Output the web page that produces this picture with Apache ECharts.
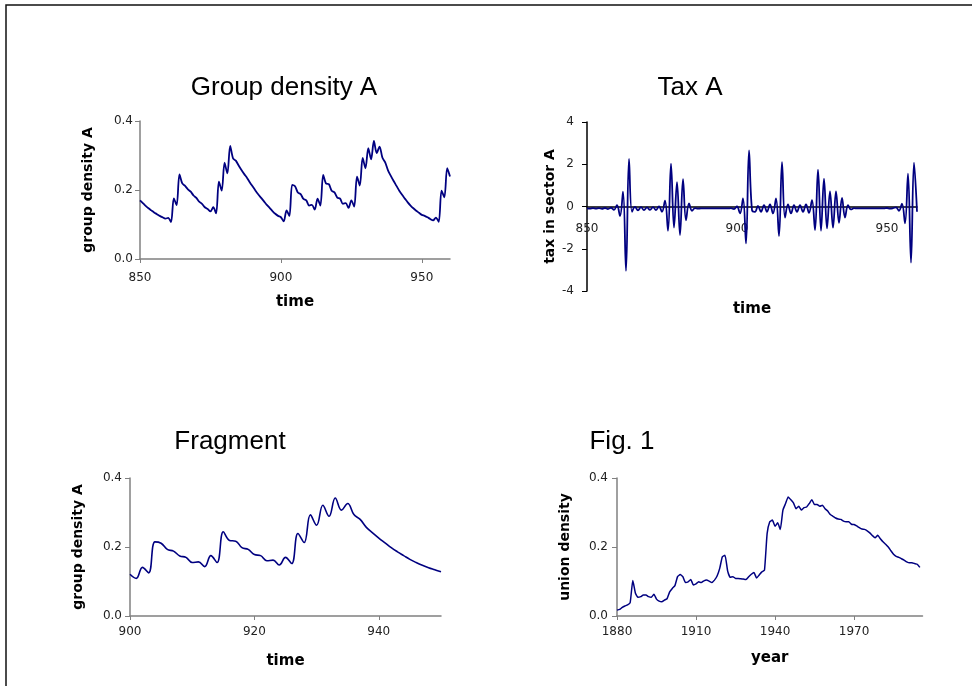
<!DOCTYPE html>
<html lang="en">
<head>
  <meta charset="UTF-8">
  <title>Group density and tax</title>
  <style>
    html,
    body {
      padding: 0;
      margin: 0;
      background: #fff;
    }
    #demo {
      width: 972px;
      height: 686px;
    }
  </style>
  <script src="https://cdn.jsdelivr.net/npm/echarts@6.0.0/dist/echarts.min.js"></script>
</head>
<body>
  <div id="demo"></div>
  <script>
    // group density in sector A, one value per year from 850
    const densityStart = 850
    const densityValues = [
      0.170, 0.162, 0.154, 0.147, 0.141, 0.135, 0.130, 0.125, 0.121, 0.117,
      0.119, 0.107, 0.176, 0.156, 0.245, 0.219, 0.212, 0.202, 0.195, 0.184,
      0.177, 0.166, 0.160, 0.150, 0.145, 0.138, 0.150, 0.132, 0.224, 0.198,
      0.279, 0.248, 0.328, 0.292, 0.285, 0.271, 0.258, 0.246, 0.235, 0.222,
      0.210, 0.198, 0.187, 0.177, 0.167, 0.157, 0.148, 0.139, 0.131, 0.125,
      0.121, 0.109, 0.141, 0.125, 0.215, 0.211, 0.193, 0.188, 0.174, 0.170,
      0.155, 0.157, 0.143, 0.175, 0.155, 0.244, 0.219, 0.217, 0.198, 0.193,
      0.178, 0.175, 0.160, 0.162, 0.148, 0.170, 0.152, 0.239, 0.213, 0.293,
      0.263, 0.321, 0.289, 0.342, 0.307, 0.326, 0.294, 0.280, 0.257, 0.241,
      0.226, 0.212, 0.198, 0.186, 0.175, 0.164, 0.155, 0.147, 0.140, 0.134,
      0.128, 0.125, 0.121, 0.116, 0.112, 0.120, 0.108, 0.198, 0.179, 0.263,
      0.239
    ]

    // tax in sector A, one value per year from 850
    const taxStart = 850
    const taxValues = [
      -0.09, -0.10, -0.08, -0.10, -0.08, -0.11, -0.07, -0.12, -0.06, -0.16,
      0.06, -0.45, 0.70, -3.05, 2.25, -0.25, -0.02, -0.18, -0.03, -0.17,
      -0.04, -0.16, -0.03, -0.17, 0.00, -0.25, 0.28, -1.15, 2.03, -1.00,
      1.15, -1.35, 1.30, -0.65, 0.15, -0.20, -0.08, -0.10, -0.09, -0.09,
      -0.09, -0.09, -0.09, -0.09, -0.09, -0.09, -0.09, -0.09, -0.08, -0.12,
      0.00, -0.33, 0.38, -1.75, 2.66, -0.17, -0.25, 0.03, -0.25, 0.06,
      -0.25, 0.10, -0.33, 0.38, -1.40, 2.10, -0.52, 0.10, -0.33, 0.06,
      -0.25, 0.06, -0.25, 0.10, -0.30, 0.30, -1.12, 1.75, -1.15, 1.32,
      -1.04, 0.72, -1.00, 0.72, -0.77, 0.41, -0.52, 0.06, -0.14, -0.08,
      -0.09, -0.09, -0.09, -0.09, -0.09, -0.09, -0.09, -0.09, -0.09, -0.09,
      -0.07, -0.10, -0.08, -0.04, -0.20, 0.14, -0.80, 1.56, -2.66, 2.08,
      -0.25
    ]

    // union density, one value per year from 1880
    const unionStart = 1880
    const unionValues = [
      0.017, 0.019, 0.025, 0.029, 0.032, 0.039, 0.103, 0.066, 0.054, 0.056,
      0.061, 0.061, 0.056, 0.054, 0.063, 0.049, 0.043, 0.041, 0.046, 0.050,
      0.070, 0.080, 0.088, 0.114, 0.120, 0.114, 0.097, 0.099, 0.106, 0.090,
      0.093, 0.099, 0.097, 0.102, 0.104, 0.101, 0.097, 0.104, 0.116, 0.138,
      0.172, 0.176, 0.131, 0.112, 0.114, 0.109, 0.109, 0.108, 0.107, 0.106,
      0.114, 0.121, 0.126, 0.110, 0.119, 0.128, 0.133, 0.239, 0.273, 0.278,
      0.260, 0.270, 0.251, 0.307, 0.326, 0.345, 0.337, 0.328, 0.311, 0.318,
      0.307, 0.314, 0.316, 0.326, 0.337, 0.323, 0.323, 0.318, 0.321, 0.311,
      0.304, 0.294, 0.289, 0.284, 0.281, 0.280, 0.275, 0.273, 0.273, 0.266,
      0.265, 0.261, 0.256, 0.252, 0.251, 0.247, 0.241, 0.233, 0.227, 0.234,
      0.224, 0.215, 0.208, 0.200, 0.189, 0.179, 0.173, 0.170, 0.166, 0.162,
      0.157, 0.154, 0.154, 0.152, 0.150, 0.141
    ]

    const panelTitles = ['Group density A', 'Tax A', 'Fragment', 'Fig. 1']
    const xNames = ['time', 'time', 'time', 'year']
    const yNames = ['group density A', 'tax in sector A', 'group density A', 'union density']

    const densityData = densityValues.map((v, i) => [densityStart + i, v])
    const taxData = taxValues.map((v, i) => [taxStart + i, v])
    const fragmentData = densityData.filter(d => d[0] >= 900 && d[0] <= 950)
    const unionData = unionValues.map((v, i) => [unionStart + i, v])

    const chart = echarts.init(document.getElementById('demo'))

    const tickFont = { fontFamily: 'DejaVu Sans', fontSize: 12, color: '#222' }
    const xNameFont = { fontFamily: 'DejaVu Sans', fontWeight: 'bold', fontSize: 15, color: '#000' }
    const yNameFont = { fontFamily: 'DejaVu Sans', fontWeight: 'bold', fontSize: 14, color: '#000' }
    const gray = '#808080'

    function xAxis (idx, min, max, interval, gap, margin, color, showTick, onZero) {
      return {
        type: 'value',
        gridIndex: idx,
        min: min,
        max: max,
        interval: interval,
        name: xNames[idx],
        nameLocation: 'middle',
        nameGap: gap,
        nameTextStyle: xNameFont,
        splitLine: { show: false },
        axisLine: { onZero: onZero, lineStyle: { color: color, width: 1.5 } },
        axisTick: { show: showTick, length: 4, lineStyle: { color: color } },
        axisLabel: Object.assign({
          margin: margin,
          showMaxLabel: false,
          formatter: v => ((v - min) % interval === 0 ? String(v) : '')
        }, tickFont)
      }
    }

    function yAxis (idx, min, max, interval, gap, margin, color, digits) {
      return {
        type: 'value',
        gridIndex: idx,
        min: min,
        max: max,
        interval: interval,
        name: yNames[idx],
        nameLocation: 'middle',
        nameGap: gap,
        nameTextStyle: yNameFont,
        splitLine: { show: false },
        axisLine: { show: true, lineStyle: { color: color, width: 1.5 } },
        axisTick: { show: true, length: 5, lineStyle: { color: color } },
        axisLabel: Object.assign({
          margin: margin,
          formatter: v => v.toFixed(digits)
        }, tickFont)
      }
    }

    function line (idx, data, smooth, width) {
      return {
        type: 'line',
        xAxisIndex: idx,
        yAxisIndex: idx,
        data: data,
        smooth: smooth,
        showSymbol: false,
        lineStyle: { color: '#000080', width: width },
        animation: false
      }
    }

    const titlePos = [[284, 88], [690, 88], [230, 442], [622, 442]]

    const option = {
      animation: false,
      grid: [
        { left: 140, top: 121, width: 310, height: 138 },
        { left: 587, top: 122, width: 330, height: 169 },
        { left: 130, top: 478, width: 311, height: 138 },
        { left: 617, top: 478, width: 305.5, height: 138 }
      ],
      xAxis: [
        xAxis(0, 850, 960, 50, 36, 13, gray, true, false),
        // labels of the tax panel sit just under the zero line
        xAxis(1, 850, 960, 50, 11, -68, '#000', false, true),
        xAxis(2, 900, 950, 20, 38, 10, gray, true, false),
        xAxis(3, 1880, 1996, 30, 35, 10, gray, true, false)
      ],
      yAxis: [
        yAxis(0, 0, 0.4, 0.2, 45, 7, gray, 1),
        yAxis(1, -4, 4, 2, 30, 13, '#000', 0),
        yAxis(2, 0, 0.4, 0.2, 45, 8, gray, 1),
        yAxis(3, 0, 0.4, 0.2, 45, 9, gray, 1)
      ],
      series: [
        line(0, densityData, 0.3, 1.8),
        line(1, taxData, 0.4, 1.8),
        line(2, fragmentData, 0.4, 1.6),
        line(3, unionData, 0.15, 1.5)
      ],
      graphic: [
        {
          type: 'rect',
          shape: { x: 6, y: 5, width: 1000, height: 700 },
          style: { fill: 'none', stroke: '#111', lineWidth: 1.5 },
          silent: true
        }
      ].concat(panelTitles.map((t, i) => ({
        type: 'text',
        x: titlePos[i][0],
        y: titlePos[i][1],
        style: {
          text: t,
          font: '26px "Liberation Sans", Arial, sans-serif',
          fill: '#000',
          align: 'center',
          verticalAlign: 'middle'
        }
      })))
    }
    chart.setOption(option)
  </script>
</body>
</html>
